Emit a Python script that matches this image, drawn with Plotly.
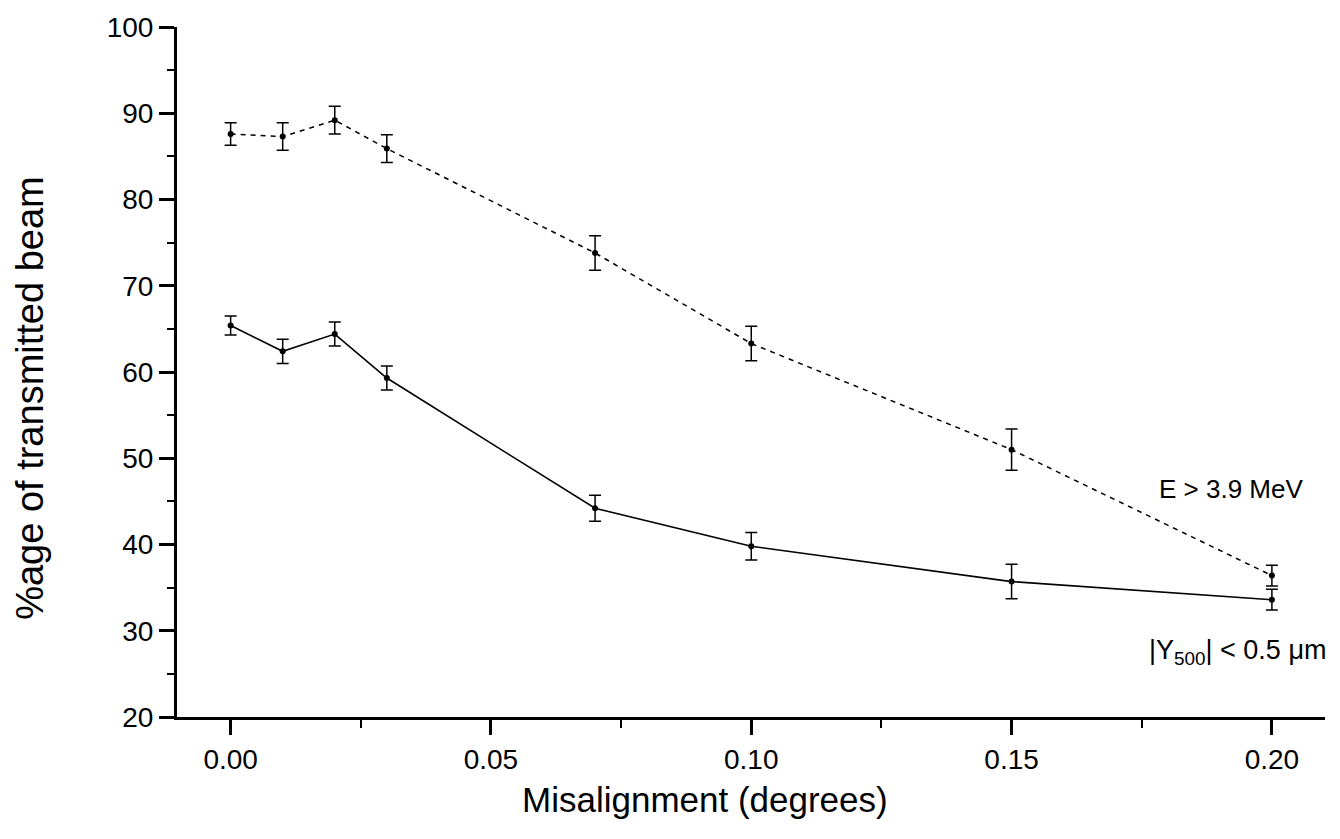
import plotly.graph_objects as go

misalignment = [0.00, 0.01, 0.02, 0.03, 0.07, 0.10, 0.15, 0.20]
energy_cut = [87.6, 87.3, 89.2, 85.9, 73.8, 63.3, 51.0, 36.4]
energy_err = [1.3, 1.6, 1.6, 1.6, 2.0, 2.0, 2.4, 1.2]
y500_cut = [65.4, 62.4, 64.4, 59.3, 44.2, 39.8, 35.7, 33.6]
y500_err = [1.1, 1.4, 1.4, 1.4, 1.5, 1.6, 2.0, 1.2]

x_ticks = [0.00, 0.05, 0.10, 0.15, 0.20]
y_ticks = [20, 30, 40, 50, 60, 70, 80, 90, 100]

font = "Liberation Sans, Arial, Helvetica, sans-serif"

fig = go.Figure()
fig.add_trace(go.Scatter(
    x=misalignment, y=energy_cut, mode="lines+markers",
    line=dict(color="black", width=1.5, dash="5px,5px"),
    marker=dict(color="black", size=6, symbol="circle"),
    error_y=dict(type="data", array=energy_err, visible=True,
                 color="black", thickness=1.5, width=6),
    showlegend=False,
))
fig.add_trace(go.Scatter(
    x=misalignment, y=y500_cut, mode="lines+markers",
    line=dict(color="black", width=1.6),
    marker=dict(color="black", size=6, symbol="circle"),
    error_y=dict(type="data", array=y500_err, visible=True,
                 color="black", thickness=1.5, width=6),
    showlegend=False,
))

fig.add_annotation(x=1157, y=488, xref="paper", yref="paper", text="E > 3.9 MeV",
                   showarrow=False, xanchor="left", yanchor="middle",
                   font=dict(family=font, size=26, color="black"))
fig.add_annotation(x=1147, y=652, xref="paper", yref="paper",
                   text="|Y<sub>500</sub>| < 0.5 μm",
                   showarrow=False, xanchor="left", yanchor="middle",
                   font=dict(family=font, size=27, color="black"))
fig.add_annotation(x=705, y=800, xref="paper", yref="paper",
                   text="Misalignment (degrees)", showarrow=False,
                   xanchor="center", yanchor="middle",
                   font=dict(family=font, size=35, color="black"))
fig.add_annotation(x=30, y=396, xref="paper", yref="paper",
                   text="%age of transmitted beam", showarrow=False, textangle=-90,
                   xanchor="center", yanchor="middle",
                   font=dict(family=font, size=38, color="black"))

# convert pixel positions for annotations to paper coordinates
L, R, T, B = 177, 15, 23, 122
W, H = 1340, 839
pw, ph = W - L - R, H - T - B
for ann in fig.layout.annotations:
    px, py = ann.x, ann.y
    ann.x = (px - L) / pw
    ann.y = 1 - (py - T) / ph

fig.update_layout(
    width=W, height=H,
    margin=dict(l=L, r=R, t=T, b=B, pad=0),
    paper_bgcolor="white", plot_bgcolor="white",
    font=dict(family=font, color="black"),
)
fig.update_xaxes(
    range=[-0.0103, 0.2102], tickvals=x_ticks, tickformat=".2f",
    showline=True, linecolor="black", linewidth=3, mirror=False,
    ticks="outside", ticklen=15, tickwidth=3, tickcolor="black",
    minor=dict(dtick=0.025, tick0=0, ticks="outside", ticklen=8, tickwidth=2, tickcolor="black"),
    showgrid=False, zeroline=False,
    tickfont=dict(family=font, size=28, color="black"),
)
fig.update_yaxes(
    range=[20, 100], tickvals=y_ticks,
    showline=True, linecolor="black", linewidth=3, mirror=False,
    ticks="outside", ticklen=15, tickwidth=3, tickcolor="black",
    minor=dict(dtick=5, tick0=0, ticks="outside", ticklen=7, tickwidth=2, tickcolor="black"),
    showgrid=False, zeroline=False,
    tickfont=dict(family=font, size=28, color="black"),
)

fig.write_html("out.html")
